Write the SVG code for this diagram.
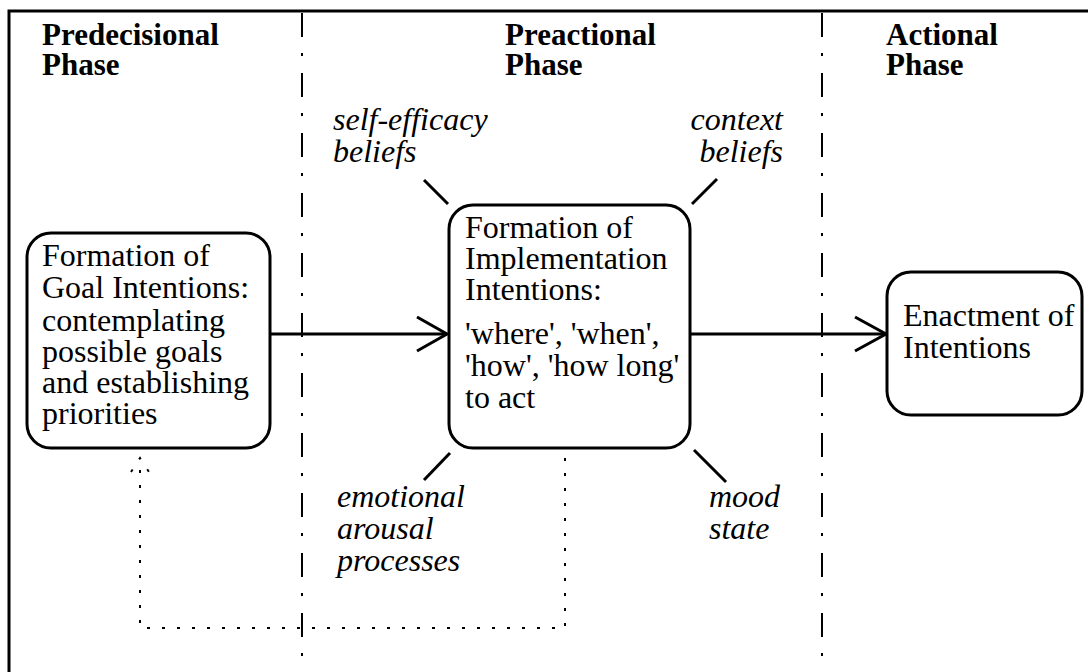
<svg xmlns="http://www.w3.org/2000/svg" width="1091" height="672" viewBox="0 0 1091 672">
<style>
.frame{stroke:#000;stroke-width:3;fill:none}
.phase{stroke:#000;stroke-width:2;fill:none;stroke-dasharray:24 16 3 17}
.box{stroke:#000;stroke-width:3;fill:#fff}
.edge{stroke:#000;stroke-width:3;fill:none}
.dot{stroke:#000;stroke-width:2;fill:none;stroke-dasharray:3 12}
text{font-family:"Liberation Serif","Times New Roman",serif;fill:#000}
.hd{font-weight:bold;font-size:31px}
.tx{font-size:32px}
.it{font-style:italic;font-size:32px}
</style>
<rect width="1091" height="672" fill="#fff"/>
<g id="frame">
<path class="frame" d="M9,672 V11 H1088"/>
<line class="phase" x1="302" y1="13" x2="302" y2="672"/>
<line class="phase" x1="822" y1="13" x2="822" y2="672"/>
</g>
<g id="headers">
<text class="hd" x="42" y="45">Predecisional</text>
<text class="hd" x="42" y="75">Phase</text>
<text class="hd" x="505" y="45">Preactional</text>
<text class="hd" x="505" y="75">Phase</text>
<text class="hd" x="886" y="45">Actional</text>
<text class="hd" x="886" y="75">Phase</text>
</g>
<g id="connectors">
<line class="edge" x1="270" y1="334" x2="447" y2="334"/>
<polyline class="edge" points="417,317 447,334 417,351"/>
<line class="edge" x1="690" y1="334" x2="886" y2="334"/>
<polyline class="edge" points="855,317 886,334 855,351"/>
<path class="dot" d="M140,470 V628 H565 V450"/>
<path class="dot" d="M131,472 L140,458 L149,472" stroke-dasharray="3 6"/>
<line class="edge" x1="424" y1="180" x2="448" y2="204"/>
<line class="edge" x1="692" y1="204" x2="717" y2="179"/>
<line class="edge" x1="450" y1="453" x2="424" y2="480"/>
<line class="edge" x1="694" y1="450" x2="726" y2="482"/>
</g>
<g id="goal">
<rect class="box" x="27" y="233" width="243" height="215" rx="24"/>
<text class="tx" x="42" y="266">Formation of</text>
<text class="tx" x="42" y="298">Goal Intentions:</text>
<text class="tx" x="42" y="331">contemplating</text>
<text class="tx" x="42" y="362">possible goals</text>
<text class="tx" x="42" y="393">and establishing</text>
<text class="tx" x="42" y="424">priorities</text>
</g>
<g id="implementation">
<rect class="box" x="449" y="205" width="241" height="243" rx="24"/>
<text class="tx" x="465" y="238">Formation of</text>
<text class="tx" x="465" y="269">Implementation</text>
<text class="tx" x="465" y="300">Intentions:</text>
<text class="tx" x="465" y="344">'where', 'when',</text>
<text class="tx" x="465" y="376">'how', 'how long'</text>
<text class="tx" x="465" y="408">to act</text>
</g>
<g id="enactment">
<rect class="box" x="887" y="272" width="195" height="143" rx="24"/>
<text class="tx" x="903" y="326">Enactment of</text>
<text class="tx" x="903" y="358">Intentions</text>
</g>
<g id="labels">
<text class="it" x="333" y="130">self-efficacy</text>
<text class="it" x="333" y="162">beliefs</text>
<text class="it" x="783" y="130" text-anchor="end">context</text>
<text class="it" x="783" y="162" text-anchor="end">beliefs</text>
<text class="it" x="337" y="507">emotional</text>
<text class="it" x="337" y="539">arousal</text>
<text class="it" x="337" y="571">processes</text>
<text class="it" x="709" y="507">mood</text>
<text class="it" x="709" y="539">state</text>
</g>
</svg>
